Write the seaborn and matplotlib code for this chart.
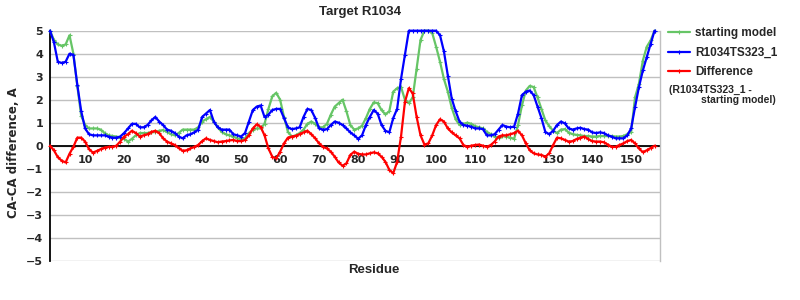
import numpy as np
import pandas as pd
import matplotlib
matplotlib.use("Agg")
import matplotlib.pyplot as plt
from matplotlib.lines import Line2D
import seaborn as sns

# ---------------- data ----------------
residues = list(range(1, 157))

starting_model = [
    5.0, 4.6, 4.4, 4.35, 4.4, 4.8, 4.0, 2.6, 1.3, 0.9,
    0.75, 0.75, 0.75, 0.7, 0.55, 0.45, 0.42, 0.4, 0.35, 0.3,
    0.18, 0.3, 0.45, 0.55, 0.55, 0.55, 0.58, 0.6, 0.65, 0.68,
    0.6, 0.5, 0.45, 0.55, 0.7, 0.7, 0.7, 0.7, 0.8, 1.05,
    1.15, 1.25, 1.05, 0.8, 0.6, 0.5, 0.45, 0.4, 0.32, 0.28,
    0.32, 0.55, 0.7, 0.75, 0.75, 0.95, 1.6, 2.15, 2.3, 2.0,
    1.25, 0.6, 0.4, 0.45, 0.55, 0.7, 0.95, 1.05, 0.95, 0.8,
    0.8, 0.95, 1.35, 1.7, 1.85, 2.0, 1.5, 0.9, 0.7, 0.75,
    0.87, 1.2, 1.6, 1.88, 1.85, 1.55, 1.36, 1.5, 2.35, 2.5,
    2.55, 2.0, 1.85, 2.1, 3.35, 4.6, 5.0, 5.0, 4.9, 4.3,
    3.65, 2.9, 2.35, 1.65, 1.15, 0.9, 0.95, 1.0, 0.95, 0.85,
    0.8, 0.75, 0.6, 0.5, 0.4, 0.35, 0.42, 0.4, 0.35, 0.3,
    0.9, 1.75, 2.4, 2.6, 2.55, 2.1, 1.6, 1.1, 0.85, 0.65,
    0.55, 0.7, 0.72, 0.57, 0.5, 0.47, 0.45, 0.42, 0.42, 0.4,
    0.4, 0.42, 0.42, 0.42, 0.42, 0.4, 0.4, 0.42, 0.5, 0.6,
    2.1, 2.7, 3.7, 4.3, 4.58, 5.0,
]

model_r1034ts323_1 = [
    5.0, 4.5, 3.65, 3.6, 3.65, 4.0, 3.95, 2.65, 1.5, 0.75,
    0.5, 0.45, 0.45, 0.45, 0.45, 0.4, 0.35, 0.35, 0.4, 0.55,
    0.75, 0.95, 0.95, 0.8, 0.8, 0.9, 1.1, 1.25, 1.05, 0.9,
    0.7, 0.65, 0.55, 0.4, 0.32, 0.45, 0.5, 0.58, 0.7, 1.25,
    1.4, 1.55, 1.05, 0.8, 0.7, 0.7, 0.7, 0.5, 0.45, 0.4,
    0.55, 1.05, 1.55, 1.7, 1.75, 1.25, 1.35, 1.55, 1.6, 1.6,
    1.2, 0.8, 0.72, 0.75, 0.8, 1.25, 1.6, 1.55, 1.2, 0.75,
    0.7, 0.72, 0.9, 1.05, 1.0, 0.9, 0.75, 0.58, 0.45, 0.3,
    0.45, 0.9, 1.25, 1.55, 1.4, 0.9, 0.65, 0.58, 1.2, 1.6,
    2.9, 3.95, 5.0, 5.0, 5.0, 5.0, 5.0, 5.0, 5.0, 5.0,
    4.8, 4.1, 3.05, 2.05, 1.5, 1.05, 0.9, 0.87, 0.83, 0.75,
    0.75, 0.72, 0.45, 0.45, 0.5, 0.7, 0.9, 0.83, 0.8, 0.83,
    1.4, 2.2, 2.35, 2.4, 2.2, 1.7, 1.2, 0.6, 0.5, 0.65,
    0.9, 1.05, 0.97, 0.75, 0.7, 0.75, 0.78, 0.72, 0.7, 0.58,
    0.55, 0.58, 0.55, 0.45, 0.4, 0.32, 0.32, 0.32, 0.45, 0.75,
    1.68, 2.55, 3.27, 3.85, 4.43, 5.0,
]

difference = [
    0.0, -0.2, -0.5, -0.65, -0.73, -0.35, -0.05, 0.35, 0.35, 0.18,
    -0.15, -0.3, -0.23, -0.15, -0.08, -0.05, -0.05, 0.0, 0.18, 0.4,
    0.5, 0.65, 0.55, 0.4, 0.45, 0.5, 0.6, 0.65, 0.55, 0.32,
    0.18, 0.1, 0.03, -0.1, -0.22, -0.2, -0.12, -0.05, 0.03, 0.2,
    0.32, 0.25, 0.2, 0.15, 0.18, 0.2, 0.23, 0.25, 0.2, 0.2,
    0.25, 0.45, 0.75, 0.93, 0.82, 0.45, -0.12, -0.48, -0.55, -0.26,
    0.1, 0.35, 0.4, 0.43, 0.5, 0.58, 0.65, 0.5, 0.32, 0.1,
    -0.05, -0.12, -0.26, -0.48, -0.73, -0.87, -0.77, -0.4, -0.26, -0.35,
    -0.38, -0.38, -0.33, -0.29, -0.33, -0.48, -0.7, -1.05, -1.2, -0.7,
    0.4, 1.9, 2.5, 2.27, 1.25, 0.45, 0.05, 0.1, 0.45, 0.9,
    1.15, 1.05, 0.75, 0.58, 0.45, 0.32, 0.03, -0.05, 0.0, 0.03,
    0.05, 0.0, -0.05, 0.03, 0.18, 0.4, 0.45, 0.45, 0.5, 0.55,
    0.65, 0.45, 0.1, -0.2, -0.33, -0.38, -0.4, -0.48, -0.33, 0.03,
    0.35, 0.32, 0.25, 0.18, 0.2, 0.29, 0.35, 0.4, 0.29, 0.2,
    0.18, 0.18, 0.15, 0.05, -0.05, -0.05, 0.03, 0.1, 0.2, 0.25,
    0.1, -0.12, -0.28, -0.2, -0.1, 0.0,
]

series_names = ["starting model", "R1034TS323_1", "Difference"]
series_colors = ["#66c566", "#0000ff", "#ff0000"]
x_ticks = list(range(10, 151, 10))
y_ticks = list(range(-5, 6))
title = "Target R1034"
x_label = "Residue"
y_label = "CA-CA difference, A"
legend_note_1 = "(R1034TS323_1 -"
legend_note_2 = "starting model)"

# ---------------- figure ----------------
sns.set_style("white")
plt.rcParams["font.family"] = ["DejaVu Sans"]

df = pd.concat([
    pd.DataFrame({"Residue": residues, "value": vals, "series": name})
    for name, vals in zip(series_names, [starting_model, model_r1034ts323_1, difference])
], ignore_index=True)

fig = plt.figure(figsize=(8, 3), dpi=100)
ax = fig.add_axes([50 / 800, 1 - 260.7 / 300, 610 / 800, 230 / 300])

sns.lineplot(data=df, x="Residue", y="value", hue="series",
             hue_order=series_names, palette=series_colors,
             marker="+", markersize=3, markeredgewidth=0.8,
             linewidth=1.6, legend=False, ax=ax, clip_on=False,
             zorder=3)
for ln in ax.lines:
    ln.set_markeredgecolor(ln.get_color())
    ln.set_markerfacecolor(ln.get_color())

ax.set_ylim(-5, 5)
ax.set_xlim(1, 157.4)

# grid
ax.set_yticks(y_ticks)
ax.yaxis.grid(True, color="#c0c0c0", linewidth=1.0, zorder=0)
ax.xaxis.grid(False)
ax.set_axisbelow(True)

# spines
ax.spines["top"].set_visible(False)
ax.spines["right"].set_color("#c0c0c0")
ax.spines["right"].set_linewidth(1.0)
ax.spines["left"].set_color("black")
ax.spines["left"].set_linewidth(1.3)
ax.spines["bottom"].set_position(("data", 0))
ax.spines["bottom"].set_color("black")
ax.spines["bottom"].set_linewidth(1.3)
ax.spines["bottom"].set_zorder(2)

ax.set_xticks(x_ticks)
ax.set_xticklabels([str(t) for t in x_ticks], fontsize=8, fontweight="bold")
ax.set_yticklabels(["\u2212" + str(-t) if t < 0 else str(t) for t in y_ticks],
                   fontsize=8, fontweight="bold")
ax.tick_params(axis="x", direction="out", length=5, width=1, color="#c0c0c0", pad=2)
ax.tick_params(axis="y", length=0, pad=5)

ax.set_xlabel("")
ax.set_ylabel(y_label, fontsize=8.5, fontweight="bold")
ax.yaxis.set_label_coords(-0.049, 0.47)

fig.text(360 / 800, 1 - 12 / 300, title, ha="center", va="center",
         fontsize=9.5, fontweight="bold",
         family=["Liberation Sans Narrow", "Liberation Sans"])
fig.text(374 / 800, 1 - 270 / 300, x_label, ha="center", va="center",
         fontsize=9.5, fontweight="bold", family=["Liberation Sans"])

# legend
handles = [Line2D([0], [0], color=c, linewidth=1.6, marker="+", markersize=3,
                  markeredgewidth=0.8) for c in series_colors]
leg = ax.legend(handles, series_names, loc="upper left",
                bbox_to_anchor=(668 / 800, 1 - 27 / 300),
                bbox_transform=fig.transFigure, frameon=False,
                prop={"family": "Liberation Sans", "weight": "bold", "size": 8.5},
                handlelength=1.9, handletextpad=0.4, labelspacing=0.65,
                borderaxespad=0, borderpad=0, markerscale=1.0)
fig.text(669 / 800, 1 - 90 / 300, legend_note_1, ha="left", va="center",
         fontsize=7.6, fontweight="bold", family=["Liberation Sans"])
fig.text(701 / 800, 1 - 100 / 300, legend_note_2, ha="left", va="center",
         fontsize=7.4, fontweight="bold", family=["Liberation Sans"])

fig.savefig("out.png", dpi=100)
